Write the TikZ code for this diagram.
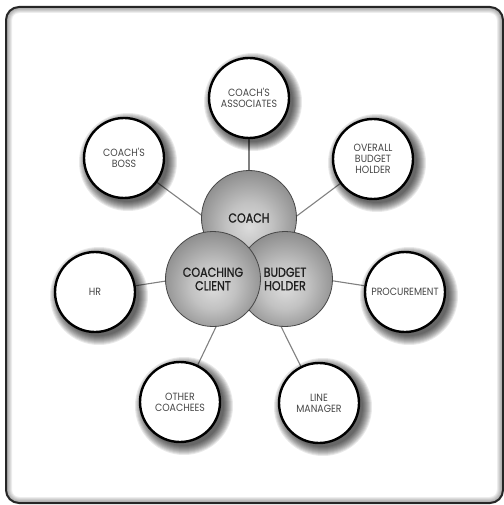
\documentclass[tikz,border=0pt]{standalone}
\usepackage{fontspec}
\setmainfont{Poppins}
\newfontfamily\outerfont[FakeStretch=0.9]{Poppins}
\newfontfamily\innerfont[FakeStretch=0.86,FakeBold=1.2]{Poppins}
% grey ball shading, lightest a little below the middle
\pgfdeclareradialshading{sphere}{\pgfpoint{0bp}{-5bp}}{%
  color(0bp)=(black!14); color(12bp)=(black!24); color(30bp)=(black!48); color(42bp)=(black!64); color(50bp)=(black!78)}
\pgfdeclarelayer{back}
\pgfsetlayers{back,main}
\begin{document}
\begin{tikzpicture}[x=1bp,y=-1bp,
  partner/.style={circle, draw=black, line width=2.4bp, fill=white,
    minimum size=80bp, inner sep=0pt, align=center,
    font=\outerfont\fontsize{10.5}{11}\selectfont, text=black!72},
  core/.style={circle, draw=black!72, line width=0.8bp, shade, shading=sphere,
    minimum size=95bp, inner sep=0pt, align=center,
    font=\innerfont\fontsize{13}{13.5}\selectfont, text=black!88},
  link/.style={draw=black!50, line width=1.1bp},
  halo/.style={fill=black, opacity=0.085}]
\useasboundingbox (0,0) rectangle (504,505);

% outer frame with a soft inner bevel
\begin{scope}
  \clip[rounded corners=13bp] (6,7) rectangle (503,503);
  \foreach \w in {2,4,...,12}
    \draw[black, opacity=0.07, line width=\w bp, rounded corners=13bp] (6,7) rectangle (503,503);
\end{scope}
\draw[black!85, line width=2bp, rounded corners=13bp] (6,7) rectangle (503,503);

% the three core roles
\node[core] (coach)  at (249,218) {COACH};
\node[core] (budget) at (285,279) {BUDGET\\HOLDER};
\node[core] (client) at (213,279) {COACHING\\CLIENT};

% the surrounding stakeholders
\node[partner] (assoc)   at (249,98)  {COACH'S\\ASSOCIATES};
\node[partner] (boss)    at (124,158) {COACH'S\\BOSS};
\node[partner] (overall) at (373,159) {OVERALL\\BUDGET\\HOLDER};
\node[partner] (hr)      at (95,292)  {HR};
\node[partner] (proc)    at (405,292) {PROCUREMENT};
\node[partner] (other)   at (180,402) {OTHER\\COACHEES};
\node[partner] (linemgr) at (319,403) {LINE\\MANAGER};

% points the spokes head for
\coordinate (upperhub) at (250,251);
\coordinate (midhub)   at (250,268);
\coordinate (lowerhub) at (248,260);

\begin{pgfonlayer}{back}
  \draw[link] (assoc) -- (coach);
  \draw[link] (boss) -- (upperhub);
  \draw[link] (overall) -- (upperhub);
  \draw[link] (hr) -- (midhub);
  \draw[link] (proc) -- (midhub);
  \draw[link] (other) -- (lowerhub);
  \draw[link] (linemgr) -- (lowerhub);
  % soft drop shadows under the stakeholder circles
  \foreach \n in {assoc,boss,overall,hr,proc,other,linemgr}
    \foreach \k in {0,...,9}
      \fill[halo] ([shift={(4,4)}]\n.center) circle ({49-\k});
\end{pgfonlayer}
\end{tikzpicture}
\end{document}
